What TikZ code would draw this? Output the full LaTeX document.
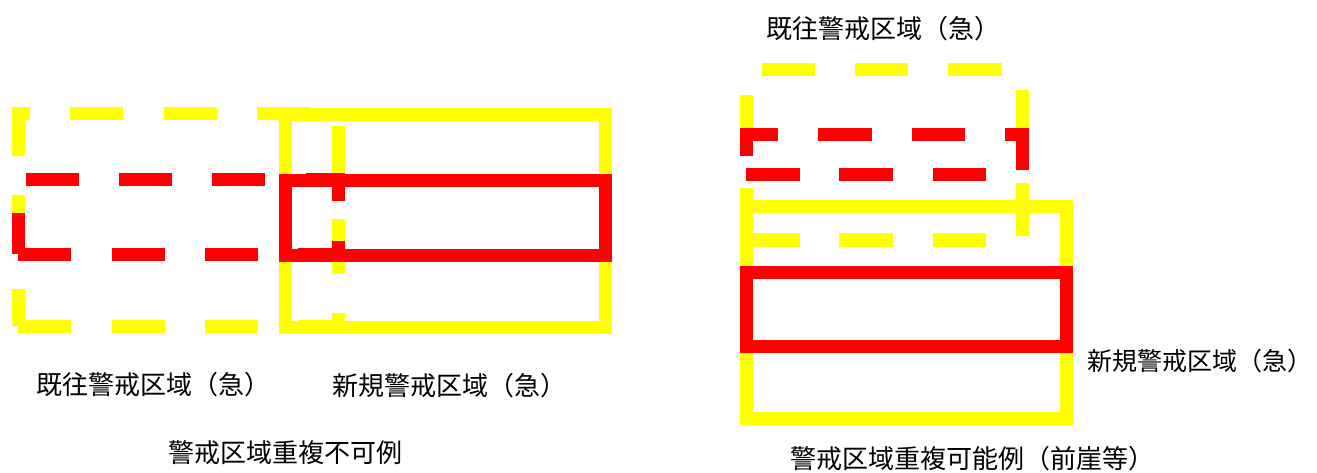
\documentclass[tikz,border=0pt]{standalone}
\usepackage{fontspec}
\newfontfamily\jpfont{Noto Sans CJK JP}
\definecolor{Yel}{HTML}{FFFF00}
\definecolor{Rd}{HTML}{FF0000}
\tikzset{
  ylw/.style={draw=Yel,line width=13pt,line cap=butt,line join=miter},
  rdl/.style={draw=Rd,line width=13pt,line cap=butt,line join=miter},
  lbl/.style={inner sep=0pt,anchor=center,font=\jpfont\fontsize{26}{26}\selectfont,text=black}
}
\begin{document}
\begin{tikzpicture}[x=1pt,y=-1pt]
\useasboundingbox (0,0) rectangle (1317,473);
% ---------- left: existing zone (yellow dashed)
\draw[ylw] (12,114)--(30,114) (70,114)--(123,114) (164,114)--(217,114) (257,114)--(310,114)
  (18,107)--(18,156) (18,195)--(18,248) (18,289)--(18,326)
  (18,326.5)--(71,326.5) (112,326.5)--(165,326.5) (205,326.5)--(258,326.5) (298,326.5)--(338,326.5)
  (338,126)--(338,179) (338,219)--(338,273) (338,313)--(338,326);
% new zone yellow solid
\draw[ylw] (285.5,115) rectangle (605.5,327.5);
% existing zone red dashed
\draw[rdl] (26,180)--(79,180) (119,180)--(172,180) (212,180)--(265,180) (306,180)--(344.5,180)
  (338,174)--(338,201)
  (18,213)--(18,254)
  (18,254)--(71,254) (112,254)--(165,254) (205,254)--(258,254) (298,254)--(338,254)
  (338,241)--(338,254);
% new zone red solid
\draw[rdl] (285.5,180.5) rectangle (605.5,255);
\node[lbl] (l1) at (153,384.5) {既往警戒区域（急）};
\node[lbl] (l2) at (449,386) {新規警戒区域（急）};
\node[lbl] (l3) at (285.5,453) {警戒区域重複不可例};
% ---------- right: existing zone yellow dashed
\draw[ylw] (762,70)--(815,70) (855,70)--(908,70) (948,70)--(1002,70)
  (746.7,95)--(746.7,148) (746.7,188)--(746.7,240)
  (1022.5,90)--(1022.5,143) (1022.5,183)--(1022.5,236)
  (740,240)--(800,240) (839,240)--(893,240) (933,240)--(986,240);
% existing zone red dashed
\draw[rdl] (740,134.5)--(778,134.5) (818,134.5)--(872,134.5) (912,134.5)--(965,134.5) (1005,134.5)--(1029,134.5)
  (746.7,128)--(746.7,156)
  (1022.5,128)--(1022.5,170)
  (746,174.5)--(800,174.5) (839,174.5)--(893,174.5) (933,174.5)--(986,174.5);
% new zone solid
\draw[ylw] (746.7,206.5) rectangle (1066.7,418.5);
\draw[rdl] (746.7,272.5) rectangle (1066.7,346.5);
\node[lbl] (r1) at (883,28.5) {既往警戒区域（急）};
\node[lbl,font=\jpfont\fontsize{25}{25}\selectfont] (r2) at (1200,360.5) {新規警戒区域（急）};
\node[lbl] (r3) at (972,459) {警戒区域重複可能例（前崖等）};
\end{tikzpicture}
\end{document}
